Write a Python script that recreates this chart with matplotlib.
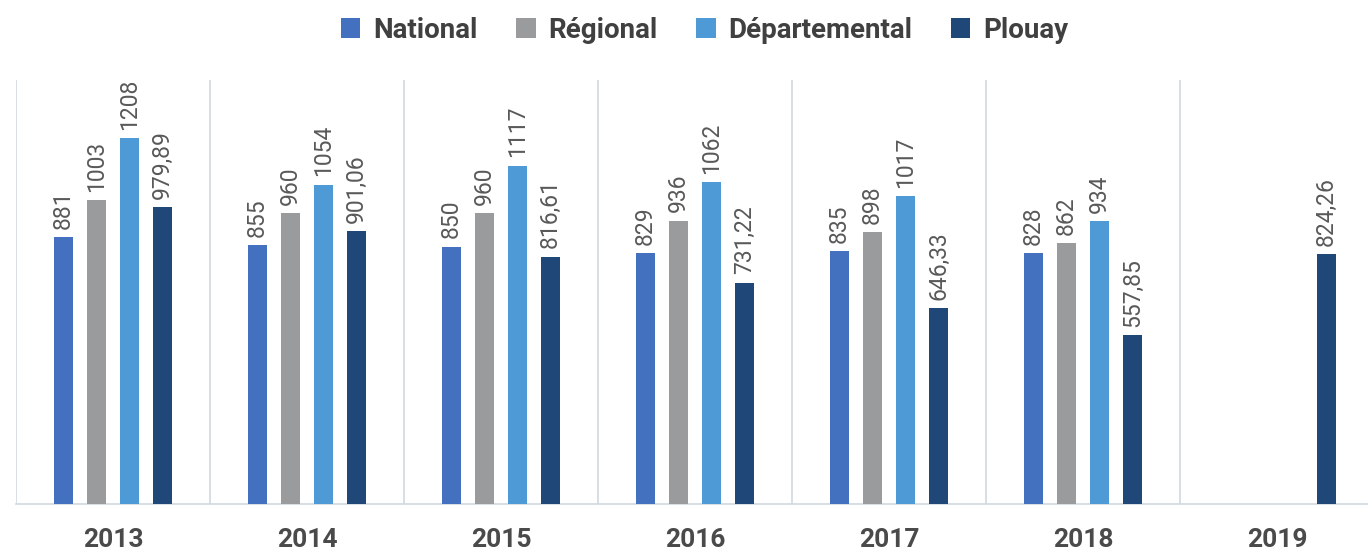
import numpy as np
import matplotlib.pyplot as plt

plt.rcParams['font.family'] = ['Roboto', 'DejaVu Sans']

years = ['2013', '2014', '2015', '2016', '2017', '2018', '2019']
series = ['National', 'Régional', 'Départemental', 'Plouay']
national = [881, 855, 850, 829, 835, 828, None]
regional = [1003, 960, 960, 936, 898, 862, None]
departemental = [1208, 1054, 1117, 1062, 1017, 934, None]
plouay = [979.89, 901.06, 816.61, 731.22, 646.33, 557.85, 824.26]
colors = ['#4470c0', '#9a9b9d', '#4d9ad6', '#1f4777']


def fmt(v):
    if float(v).is_integer():
        return str(int(v))
    return f"{v:.2f}".replace('.', ',')


fig = plt.figure(figsize=(13.68, 5.51), dpi=100)
ax = fig.add_axes([16 / 1368, 47 / 551, 1358 / 1368, 424 / 551])

x = np.arange(len(years))
step = 0.17
width = 0.098
for k, (name, vals) in enumerate(zip(series, [national, regional, departemental, plouay])):
    xs = [xi + (k - 1.5) * step for xi, v in zip(x, vals) if v is not None]
    vs = [v for v in vals if v is not None]
    bars = ax.bar(xs, vs, width=width, color=colors[k], label=name, zorder=3)
    for b, v in zip(bars, vs):
        ax.annotate(fmt(v), (b.get_x() + b.get_width() / 2, v),
                    xytext=(0, 6), textcoords='offset points',
                    rotation=90, ha='center', va='bottom',
                    fontsize=16.5, color='#595959')

for sep in np.arange(-0.5, len(years), 1.0):
    ax.axvline(sep, color='#cfd9e0', lw=1.2, zorder=1)

ax.set_xlim(-0.5, len(years) - 0.5)
ax.set_ylim(0, 1400)
ax.set_yticks([])
for s in ['top', 'right', 'left']:
    ax.spines[s].set_visible(False)
ax.spines['bottom'].set_color('#cfd9e0')
ax.spines['bottom'].set_linewidth(1.2)
ax.set_xticks(x)
ax.set_xticklabels(years, fontsize=19, fontweight='bold', color='#4a4a4a')
ax.tick_params(axis='x', length=0, pad=17)

fig.legend(loc='center', bbox_to_anchor=(0.515, 1 - 30 / 551), ncol=4,
           frameon=False, prop={'size': 20, 'weight': 'bold'},
           handlelength=0.7, handleheight=0.7,
           handletextpad=0.45, columnspacing=1.4, labelcolor='#404040')

fig.savefig('out.png', dpi=100)
